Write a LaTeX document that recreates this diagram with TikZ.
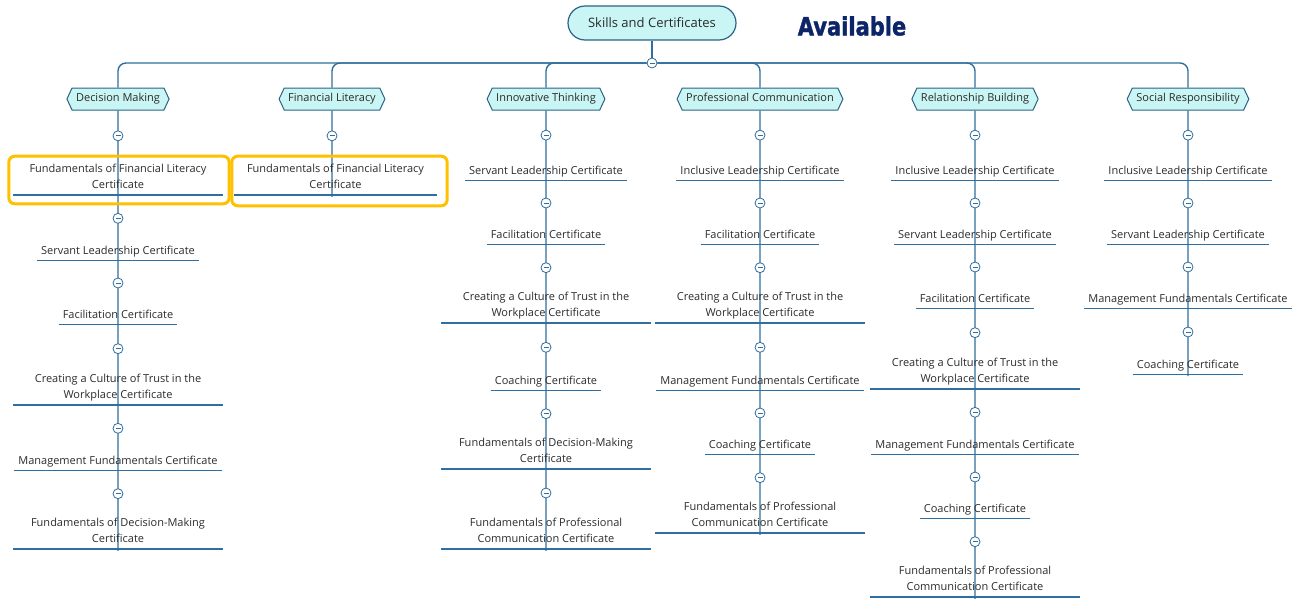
\documentclass[tikz,border=0pt]{standalone}
\usepackage{graphicx}
\usepackage{fontspec}
\setmainfont{Open Sans}
\newfontfamily\heavyfont{DejaVu Sans}[BoldFeatures={FakeBold=1.6}]
\usetikzlibrary{calc,shapes.symbols,backgrounds}
\definecolor{lineBlue}{HTML}{2F6E9E}
\definecolor{hdrFill}{HTML}{C9F5F4}
\definecolor{hdrEdge}{HTML}{2C6384}
\definecolor{hiGold}{HTML}{FFC000}
\definecolor{navyText}{HTML}{0C2468}
\definecolor{inkGray}{HTML}{2B2B2B}

\tikzset{
  branch/.style={lineBlue, line width=1.4pt},
  uline/.style={draw=lineBlue, line width=1.4pt},
  item/.style={font=\fontsize{11}{16}\selectfont, text=inkGray, align=center, inner xsep=4pt, inner ysep=3pt, yshift=-2pt,
    execute at begin node=\strut, execute at end node=\strut,
    append after command={([yshift=2pt]\tikzlastnode.south west) edge[uline] ([yshift=2pt]\tikzlastnode.south east)}},
  hdr/.style={shape=signal, signal to=west and east, signal pointer angle=130, draw=hdrEdge, fill=hdrFill,
    line width=1pt, minimum height=22pt, inner xsep=4pt, inner ysep=0pt, text height=8pt, text depth=3pt,
    text=inkGray, font=\fontsize{11}{13}\selectfont},
  root/.style={rounded corners=17pt, draw=hdrEdge, fill=hdrFill, line width=1.2pt, minimum width=168pt,
    minimum height=34pt, text=inkGray, font=\fontsize{13}{15}\selectfont},
  knob/.style={circle, draw=lineBlue, fill=white, line width=0.8pt, minimum size=10pt, inner sep=0pt,
    path picture={\draw[lineBlue, line width=0.8pt] ([xshift=-2.5pt]path picture bounding box.center) -- ([xshift=2.5pt]path picture bounding box.center);}},
  hilite/.style={draw=hiGold, line width=3pt, rounded corners=6pt}
}

\begin{document}
\begin{tikzpicture}[x=1pt, y=-1pt]
  \useasboundingbox (0,0) rectangle (1305,600);
  % root and title
  \node[root] (root) at (652,23) {Skills and Certificates};
  \node[knob] (k0) at (652,63) {};
  \node[font=\heavyfont\bfseries\fontsize{21}{24}\selectfont, text=navyText] (avail) at (852,26) {\scalebox{1}[1.2]{Available}};
  % skill headers
  \foreach \x/\t [count=\c] in {118/Decision Making, 332/Financial Literacy, 546/Innovative Thinking,
      760/Professional Communication, 975/Relationship Building, 1188/Social Responsibility}
    \node[hdr, alias=c\c-0] (h\c) at (\x,99) {\t};
  % certificates per skill
  \foreach \y/\w/\t [count=\k] in {177/210/{Fundamentals of Financial Literacy\\Certificate},
      249/0/{Servant Leadership Certificate}, 313/0/{Facilitation Certificate},
      387/210/{Creating a Culture of Trust in the\\Workplace Certificate},
      459/0/{Management Fundamentals Certificate},
      531/210/{Fundamentals of Decision-Making\\Certificate}}
    \node[item, minimum width=\w] (c1-\k) at (118,\y) {\t};
  \node[item, minimum width=203] (c2-1) at (335.5,177) {Fundamentals of Financial Literacy\\Certificate};
  \foreach \y/\w/\t [count=\k] in {169/0/{Servant Leadership Certificate}, 233/0/{Facilitation Certificate},
      305/210/{Creating a Culture of Trust in the\\Workplace Certificate},
      379/0/{Coaching Certificate},
      451/210/{Fundamentals of Decision-Making\\Certificate},
      531/210/{Fundamentals of Professional\\Communication Certificate}}
    \node[item, minimum width=\w] (c3-\k) at (546,\y) {\t};
  \foreach \y/\w/\t [count=\k] in {169/0/{Inclusive Leadership Certificate}, 233/0/{Facilitation Certificate},
      305/210/{Creating a Culture of Trust in the\\Workplace Certificate},
      379/0/{Management Fundamentals Certificate},
      443/0/{Coaching Certificate},
      515/210/{Fundamentals of Professional\\Communication Certificate}}
    \node[item, minimum width=\w] (c4-\k) at (760,\y) {\t};
  \foreach \y/\w/\t [count=\k] in {169/0/{Inclusive Leadership Certificate}, 233/0/{Servant Leadership Certificate},
      297/0/{Facilitation Certificate},
      371/210/{Creating a Culture of Trust in the\\Workplace Certificate},
      443/0/{Management Fundamentals Certificate},
      507/0/{Coaching Certificate},
      579/210/{Fundamentals of Professional\\Communication Certificate}}
    \node[item, minimum width=\w] (c5-\k) at (975,\y) {\t};
  \foreach \y/\w/\t [count=\k] in {169/0/{Inclusive Leadership Certificate}, 233/0/{Servant Leadership Certificate},
      297/0/{Management Fundamentals Certificate}, 363/0/{Coaching Certificate}}
    \node[item, minimum width=\w] (c6-\k) at (1188,\y) {\t};
  % connectors with collapse knobs
  \begin{scope}[on background layer]
    \draw[branch] (root) -- (k0);
    \foreach \c in {1,...,6}
      \draw[branch, rounded corners=8pt] (k0) -| (h\c);
  \end{scope}
  \foreach \c/\n in {1/6, 2/1, 3/6, 4/6, 5/7, 6/4} {
    \begin{scope}[on background layer]
      \draw[branch] (h\c) -- (h\c |- c\c-\n.south);
    \end{scope}
    \foreach \k in {1,...,\n} {
      \pgfmathtruncatemacro{\p}{\k-1}
      \node[knob] (k\c-\k) at ($(h\c |- c\c-\p.south)!0.5!(h\c |- c\c-\k.north)$) {};
    }
  }
  % highlighted certificates
  \draw[hilite] ($(c1-1.north west)+(-4,-5)$) rectangle ($(c1-1.south east)+(6,7)$);
  \draw[hilite] ($(c2-1.north west)+(-2,-5)$) rectangle ($(c2-1.south east)+(10,9)$);
\end{tikzpicture}
\end{document}
